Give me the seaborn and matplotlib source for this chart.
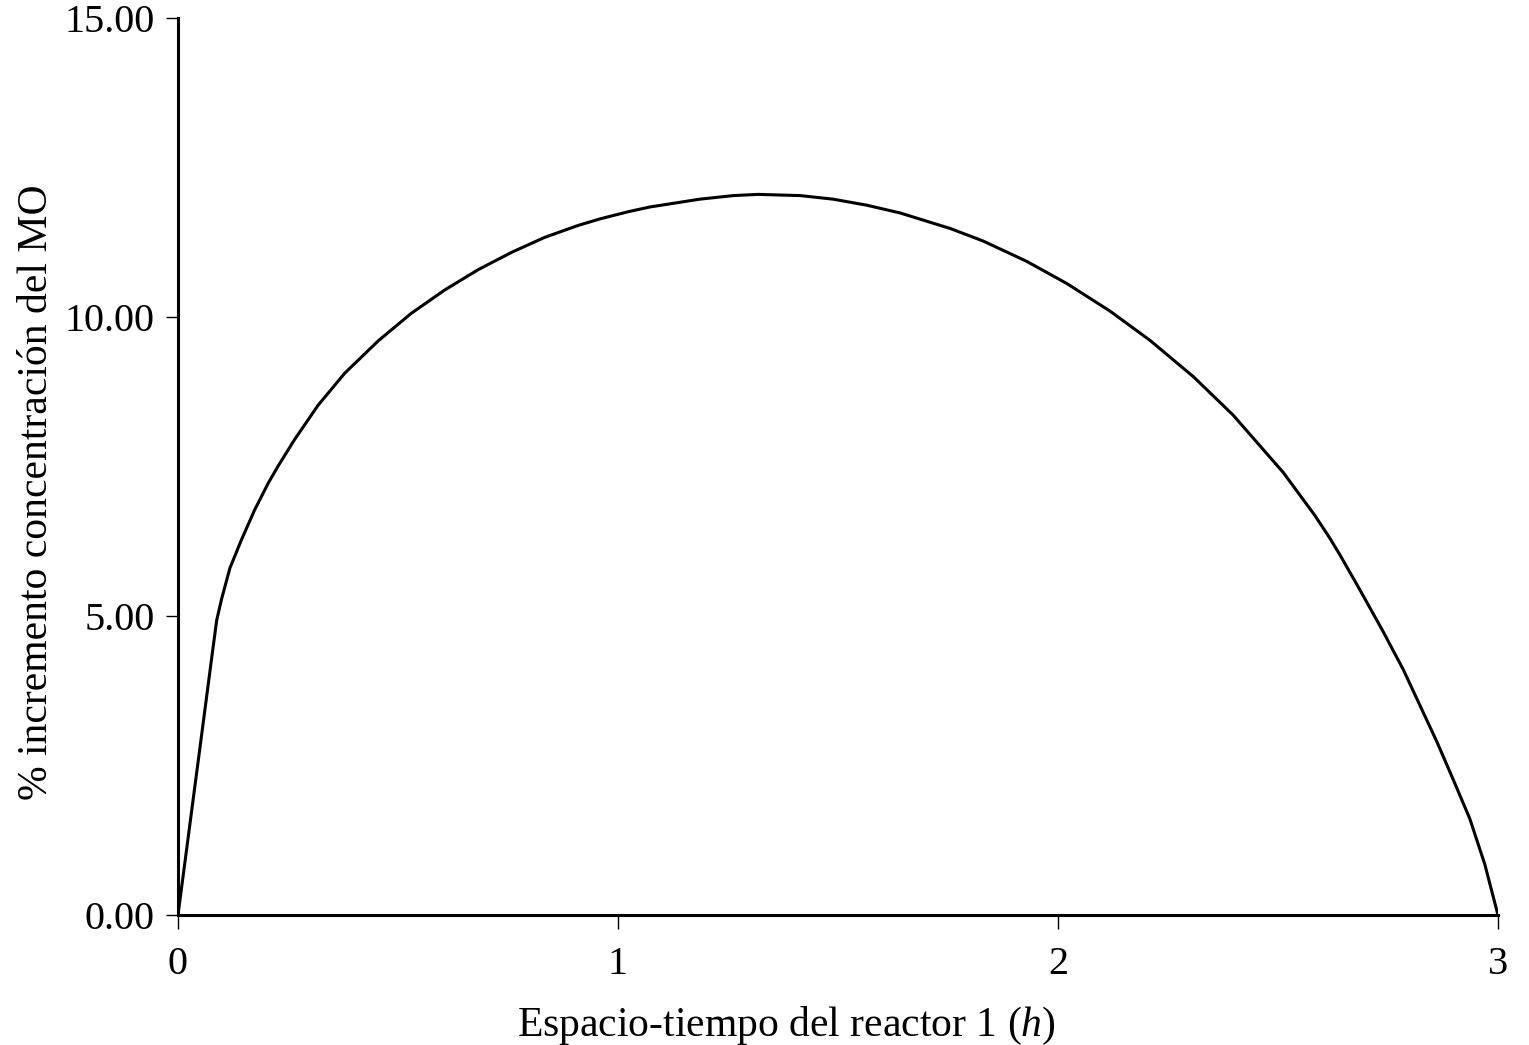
import matplotlib
matplotlib.use("Agg")
import matplotlib.pyplot as plt
import matplotlib.ticker as ticker
import pandas as pd
import seaborn as sns

# values
tiempo = [0.0, 0.012, 0.035, 0.058, 0.077, 0.088, 0.099, 0.118, 0.144, 0.174,
          0.205, 0.227, 0.265, 0.318, 0.379, 0.455, 0.530, 0.606, 0.682, 0.758,
          0.833, 0.909, 0.959, 1.023, 1.073, 1.186, 1.262, 1.318, 1.414, 1.489,
          1.565, 1.641, 1.755, 1.830, 1.929, 2.020, 2.118, 2.209, 2.308, 2.398,
          2.512, 2.584, 2.618, 2.641, 2.686, 2.739, 2.785, 2.823, 2.861, 2.898,
          2.936, 2.970, 3.0]
incremento = [0.0, 0.67, 1.96, 3.25, 4.32, 4.93, 5.28, 5.80, 6.27, 6.77,
              7.22, 7.50, 7.95, 8.52, 9.06, 9.60, 10.06, 10.45, 10.79, 11.08,
              11.33, 11.53, 11.64, 11.76, 11.84, 11.97, 12.03, 12.05, 12.03, 11.97,
              11.87, 11.74, 11.48, 11.27, 10.93, 10.56, 10.10, 9.61, 9.00, 8.36,
              7.40, 6.68, 6.30, 6.02, 5.44, 4.74, 4.10, 3.50, 2.90, 2.27,
              1.61, 0.85, 0.0]

x_ticks = [0, 1, 2, 3]
y_ticks = [0, 5, 10, 15]

df = pd.DataFrame({"tiempo": tiempo, "incremento": incremento})

sns.set_theme(style="ticks")
plt.rcParams["font.family"] = ["Liberation Serif", "DejaVu Serif"]
plt.rcParams["mathtext.fontset"] = "custom"
plt.rcParams["mathtext.it"] = "Liberation Serif:italic"
plt.rcParams["mathtext.rm"] = "Liberation Serif"

fig = plt.figure(figsize=(15.29, 10.45), dpi=100)
ax = fig.add_axes([0.1164, 0.1244, 0.8633, 0.8584])

sns.lineplot(data=df, x="tiempo", y="incremento", ax=ax, color="black",
             linewidth=2.2, sort=False)

ax.set_xlim(0, 3)
ax.set_ylim(0, 15)
ax.set_xticks(x_ticks)
ax.set_yticks(y_ticks)
ax.yaxis.set_major_formatter(ticker.FormatStrFormatter("%.2f"))

for side in ["top", "right"]:
    ax.spines[side].set_visible(False)
for side in ["left", "bottom"]:
    ax.spines[side].set_linewidth(2.2)
    ax.spines[side].set_color("black")

ax.tick_params(axis="both", direction="out", width=1.0,
               colors="black", labelsize=29)
ax.tick_params(axis="x", length=10, pad=12)
ax.tick_params(axis="y", length=9, pad=8)

ax.set_xlabel(r"Espacio-tiempo del reactor 1 ($\it{h}$)", fontsize=30,
              color="black", labelpad=16)
ax.set_ylabel("% incremento concentración del MO", fontsize=30,
              color="black", labelpad=6)
# labels sit a bit off-centre in the reference
ax.xaxis.label.set_x(0.461)
ax.yaxis.label.set_y(0.4716)

fig.savefig("out.png", dpi=100, facecolor="white")
